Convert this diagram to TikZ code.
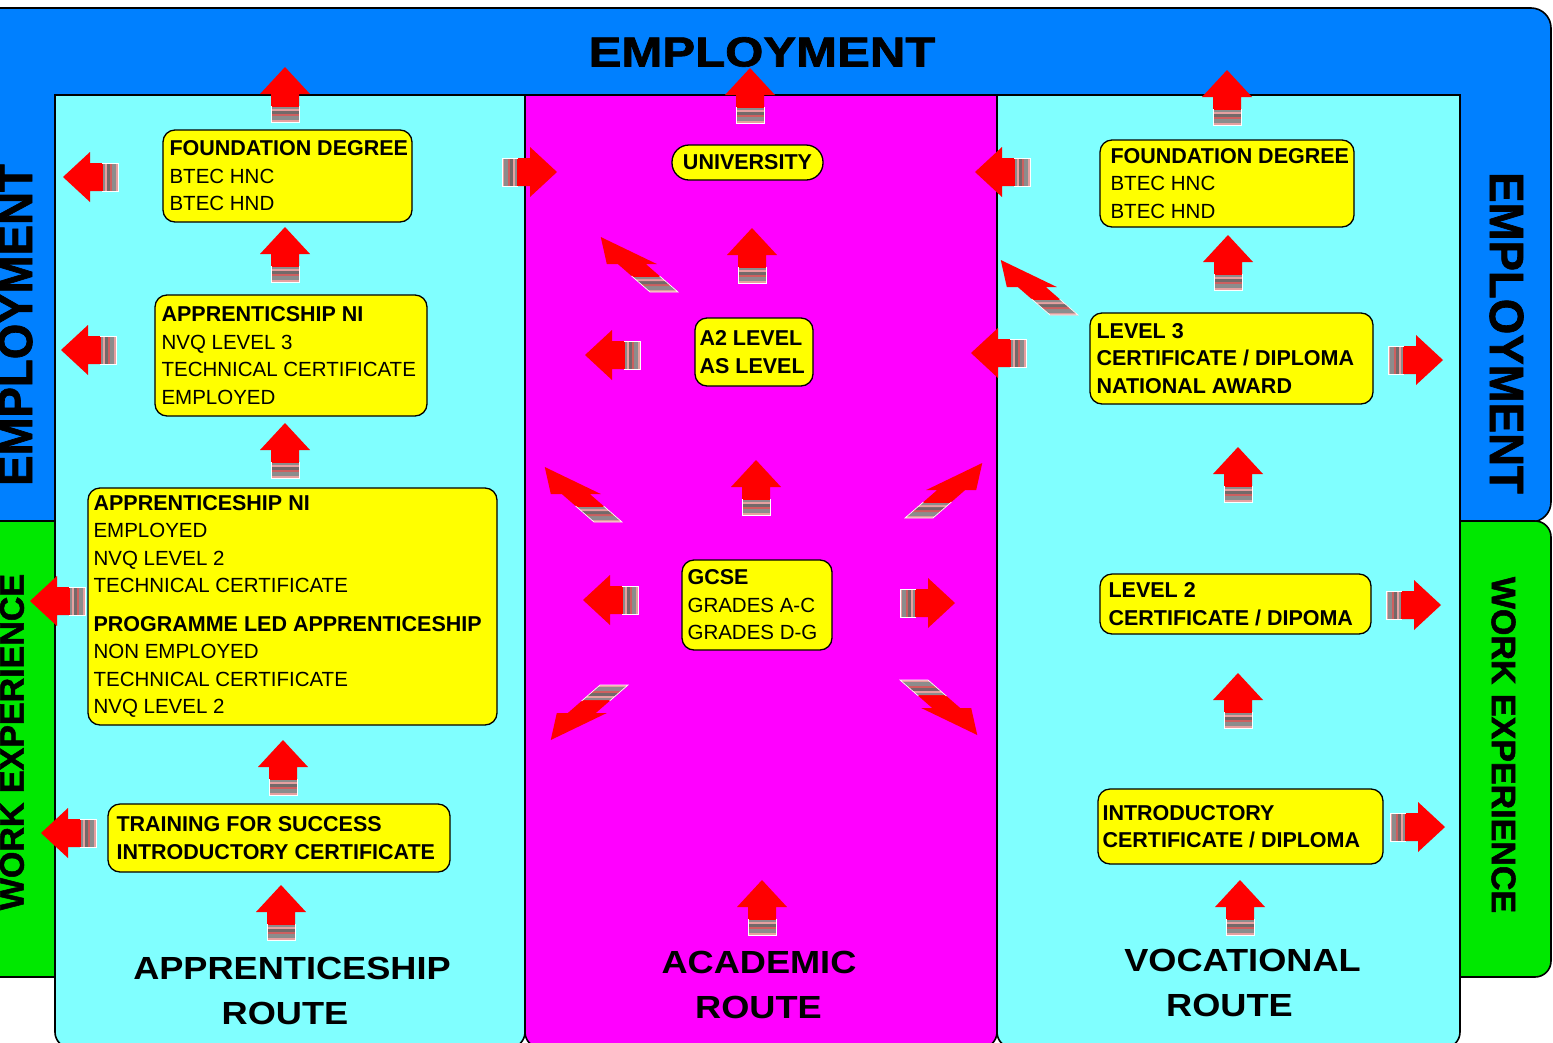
\documentclass[tikz,border=0pt]{standalone}
\usepackage{fontspec}
\usepackage{graphicx}
\setmainfont{Liberation Sans}
\newfontfamily\heavyfont{Liberation Sans Bold}[FakeBold=1.5]

\definecolor{bandblue}{RGB}{0,128,255}
\definecolor{workgreen}{RGB}{0,232,0}
\definecolor{routecyan}{RGB}{128,255,255}
\definecolor{academic}{RGB}{255,0,255}
\definecolor{boxyellow}{RGB}{255,255,0}
\definecolor{arrowred}{RGB}{255,0,0}
\definecolor{tailgrey}{RGB}{140,140,140}
\definecolor{tailpink}{RGB}{230,160,160}
\definecolor{taildark}{RGB}{115,105,105}
\definecolor{tailrose}{RGB}{205,95,95}

% one horizontal band of the striped arrow tail
\newcommand\tailband[3]{\fill[#1] (-14pt,#2pt) -- (14pt,#2pt) -- (14pt,#3pt) -- (-14pt,#3pt) -- cycle;}
% bold first line of a qualification box
\newcommand\boxhead[1]{{\fontsize{21.5}{27.5}\selectfont\bfseries #1}}

\tikzset{
  edge/.style={draw=black, line width=1.6pt},
  ybox/.style={draw=black, line width=1.3pt, fill=boxyellow, rounded corners=12pt, inner sep=0pt},
  boxtext/.style={anchor=west, align=left, inner sep=0pt, font=\fontsize{20.5}{27.5}\selectfont},
  routelabel/.style={inner sep=0pt, font=\fontsize{32}{36}\selectfont\bfseries},
  bandlabel/.style={inner sep=0pt, font=\heavyfont\fontsize{48}{50}\selectfont},
  worklabel/.style={inner sep=0pt, font=\heavyfont\fontsize{34}{36}\selectfont},
  % block arrow: tail at the origin, pointing up
  blockarrow/.pic={
    \fill[arrowred] (-14pt,0pt) -- (-14pt,28pt) -- (-25pt,28pt) -- (0pt,55pt)
      -- (25pt,28pt) -- (14pt,28pt) -- (14pt,0pt) -- cycle;
    \tailband{tailpink}{0}{2}
    \tailband{tailgrey}{2}{6}
    \tailband{tailrose}{6}{8}
    \tailband{taildark}{8}{11}
    \tailband{tailpink}{11}{13}
    \tailband{tailgrey}{13}{15}
    \draw[white, line width=0.7pt] (-14pt,16pt) -- (-14pt,0pt) -- (14pt,0pt) -- (14pt,16pt);
  }
}

\begin{document}
\begin{tikzpicture}[x=1pt,y=-1pt]
\useasboundingbox (0,0) rectangle (1553,1042);
\clip (0,0) rectangle (1553,1042);
\fill[white] (0,0) rectangle (1553,1042);

% employment and work experience bands
\draw[edge, fill=bandblue, rounded corners=20pt] (-60,8) rectangle (1551,522);
\draw[edge, fill=workgreen, rounded corners=16pt] (-60,521) rectangle (1551,977);

% the three route panels
\foreach \l/\r/\c in {55/525/routecyan, 525/997/academic, 997/1460/routecyan}
  \draw[edge, fill=\c] (\l,900) -- (\l,95) -- (\r,95) -- (\r,900)
    {[rounded corners=16pt] -- (\r,1048) -- (\l,1048) -- (\l,900)} -- cycle;

% band labels
\node[bandlabel, font=\heavyfont\fontsize{42}{44}\selectfont] (topemp) at (762,52) {\scalebox{1.17}[1]{EMPLOYMENT}};
\node[bandlabel, rotate=90] (leftemp) at (15.5,325) {\scalebox{0.95}[1]{EMPLOYMENT}};
\node[bandlabel, rotate=-90] (rightemp) at (1506.5,333) {\scalebox{0.95}[1]{EMPLOYMENT}};
\node[worklabel, rotate=90] (leftwork) at (12,742) {WORK EXPERIENCE};
\node[worklabel, rotate=-90] (rightwork) at (1503.5,745) {WORK EXPERIENCE};

% apprenticeship route
\node[ybox, minimum width=249pt, minimum height=92pt] (L1) at (287.5,176) {};
\node[boxtext] (L1t) at ([xshift=7pt]L1.west) {\boxhead{FOUNDATION DEGREE}\\BTEC HNC\\BTEC HND};
\node[ybox, minimum width=272pt, minimum height=121pt] (L2) at (291,355.5) {};
\node[boxtext] (L2t) at ([xshift=7pt]L2.west) {\boxhead{APPRENTICSHIP NI}\\NVQ LEVEL 3\\TECHNICAL CERTIFICATE\\EMPLOYED};
\node[ybox, minimum width=409pt, minimum height=237pt] (L3) at (292.5,606.5) {};
\node[boxtext] (L3t) at ([xshift=6pt]L3.west) {\boxhead{APPRENTICESHIP NI}\\EMPLOYED\\NVQ LEVEL 2\\TECHNICAL CERTIFICATE\\[11pt]\boxhead{PROGRAMME LED APPRENTICESHIP}\\NON EMPLOYED\\TECHNICAL CERTIFICATE\\NVQ LEVEL 2};
\node[ybox, minimum width=342pt, minimum height=68pt] (L4) at (279,838) {};
\node[boxtext] (L4t) at ([xshift=9pt]L4.west) {\boxhead{TRAINING FOR SUCCESS}\\\boxhead{INTRODUCTORY CERTIFICATE}};

% academic route
\node[ybox, rounded corners=17pt, minimum width=151pt, minimum height=35pt] (M1) at (747.5,162.5) {\boxhead{UNIVERSITY}};
\node[ybox, minimum width=118pt, minimum height=68pt] (M2) at (754,352) {};
\node[boxtext] (M2t) at ([xshift=5pt]M2.west) {\boxhead{A2 LEVEL}\\\boxhead{AS LEVEL}};
\node[ybox, minimum width=150pt, minimum height=90pt] (M3) at (757,605) {};
\node[boxtext] (M3t) at ([xshift=6pt]M3.west) {\boxhead{GCSE}\\GRADES A-C\\GRADES D-G};

% vocational route
\node[ybox, minimum width=254pt, minimum height=87pt] (R1) at (1227,183.5) {};
\node[boxtext] (R1t) at ([xshift=11pt]R1.west) {\boxhead{FOUNDATION DEGREE}\\BTEC HNC\\BTEC HND};
\node[ybox, minimum width=283pt, minimum height=91pt] (R2) at (1231.5,358.5) {};
\node[boxtext] (R2t) at ([xshift=7pt]R2.west) {\boxhead{LEVEL 3}\\\boxhead{CERTIFICATE / DIPLOMA}\\\boxhead{NATIONAL AWARD}};
\node[ybox, minimum width=271pt, minimum height=60pt] (R3) at (1235.5,604) {};
\node[boxtext] (R3t) at ([xshift=9pt]R3.west) {\boxhead{LEVEL 2}\\\boxhead{CERTIFICATE / DIPOMA}};
\node[ybox, minimum width=285pt, minimum height=75pt] (R4) at (1240.5,826.5) {};
\node[boxtext] (R4t) at ([xshift=5pt]R4.west) {\boxhead{INTRODUCTORY}\\\boxhead{CERTIFICATE / DIPLOMA}};

% route titles
\node[routelabel] (apA) at (292,968) {\scalebox{1.13}[1]{APPRENTICESHIP}};
\node[routelabel] (apB) at (285,1013) {\scalebox{1.13}[1]{ROUTE}};
\node[routelabel] (acA) at (759,962) {\scalebox{1.13}[1]{ACADEMIC}};
\node[routelabel] (acB) at (758.5,1007) {\scalebox{1.13}[1]{ROUTE}};
\node[routelabel] (voA) at (1242.5,960) {\scalebox{1.13}[1]{VOCATIONAL}};
\node[routelabel] (voB) at (1229.5,1005) {\scalebox{1.13}[1]{ROUTE}};

% upward arrows
\foreach \p in {(285,122),(285,282),(285,478),(283,795),(281,940),
                (750,123),(752,283),(756,515),(762,935),
                (1227,125),(1228,290),(1238,502),(1238,728),(1240,935)}
  \pic at \p {blockarrow};
% leftward arrows
\foreach \p in {(118,177),(116,350),(85,601),(96,833),(640,355),(638,600),(1030,172),(1026,353)}
  \pic[rotate=90] at \p {blockarrow};
% rightward arrows
\foreach \p in {(502,172),(900,603),(1388,360),(1386,605),(1390,827)}
  \pic[rotate=-90] at \p {blockarrow};
% slanted arrows
\foreach \p in {(664,292),(608,522),(1064,315)}
  \pic[xslant=-1.15] at \p {blockarrow};
\pic[xslant=1.15] at (919,518) {blockarrow};
\pic[xslant=1.15, yscale=-1] at (614,685) {blockarrow};
\pic[xslant=-1.15, yscale=-1] at (914,680) {blockarrow};
\end{tikzpicture}
\end{document}
